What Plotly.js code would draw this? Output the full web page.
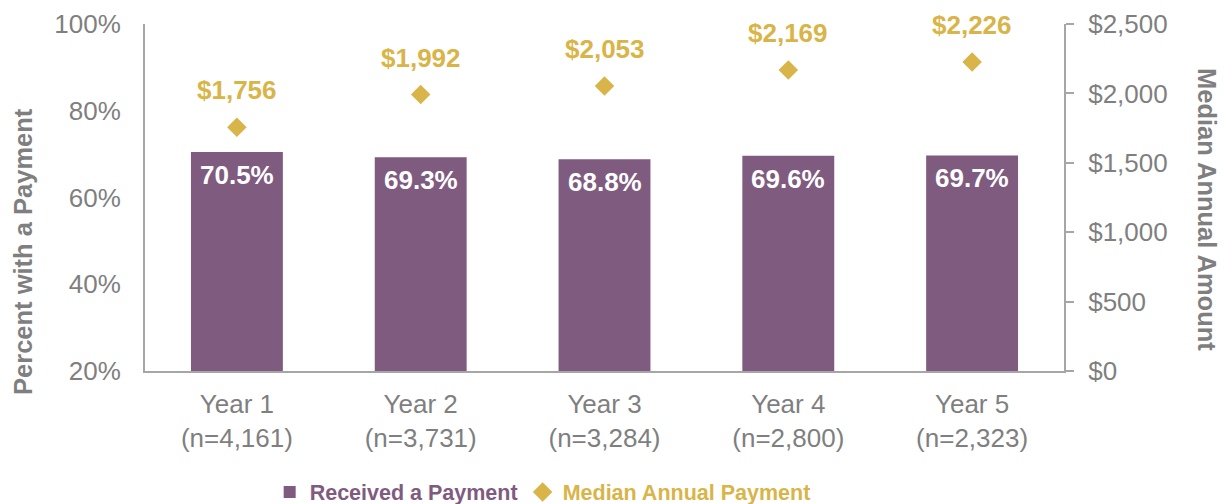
<!DOCTYPE html>
<html>
<head>
<meta charset="utf-8">
<script src="https://cdn.plot.ly/plotly-3.0.1.min.js"></script>
<style>html,body{margin:0;padding:0;background:#fff;}#chart{width:1225px;height:504px;}</style>
</head>
<body>
<div id="chart"></div>
<script>
const years = ["Year 1", "Year 2", "Year 3", "Year 4", "Year 5"];
const sampleSizes = ["4,161", "3,731", "3,284", "2,800", "2,323"];
const pctReceived = [70.5, 69.3, 68.8, 69.6, 69.7];
const medianPayment = [1756, 1992, 2053, 2169, 2226];

const PURPLE = "#7F5B7F";
const GOLD = "#D9B448";
const GRAY = "#7F7F7F";
const LINE = "#A6A6A6";
const FONT = "'Liberation Sans', Arial, sans-serif";

const cats = years.map((y, i) => y + "<br>(n=" + sampleSizes[i] + ")");

const traces = [
  {
    type: "bar",
    x: cats,
    y: pctReceived,
    width: 0.5,
    marker: {color: PURPLE},
    name: '<span style="color:' + PURPLE + '"><b>Received a Payment</b></span>',
    hoverinfo: "skip"
  },
  {
    type: "scatter",
    mode: "markers",
    x: cats,
    y: medianPayment,
    yaxis: "y2",
    marker: {symbol: "diamond", size: 15, color: GOLD},
    name: '<span style="color:' + GOLD + '"><b>Median Annual Payment</b></span>',
    hoverinfo: "skip"
  }
];

const annotations = [];
cats.forEach((c, i) => {
  annotations.push({
    x: c, y: pctReceived[i], xref: "x", yref: "y",
    text: "<b>" + pctReceived[i].toFixed(1) + "%</b>",
    showarrow: false, yshift: -23, yanchor: "middle",
    font: {family: FONT, size: 26, color: "#FFFFFF"}
  });
  annotations.push({
    x: c, y: medianPayment[i], xref: "x", yref: "y2",
    text: "<b>$" + medianPayment[i].toLocaleString("en-US") + "</b>",
    showarrow: false, yshift: 37, yanchor: "middle",
    font: {family: FONT, size: 26, color: GOLD}
  });
});
annotations.push({
  xref: "paper", yref: "paper", x: -0.1328, y: 0.3458,
  xanchor: "center", yanchor: "middle", textangle: -90,
  text: "<b>Percent with a Payment</b>", showarrow: false,
  font: {family: FONT, size: 25.5, color: GRAY}
});
annotations.push({
  xref: "paper", yref: "paper", x: 1.1556, y: 0.464,
  xanchor: "center", yanchor: "middle", textangle: 90,
  text: "<b>Median Annual Amount</b>", showarrow: false,
  font: {family: FONT, size: 25.5, color: GRAY}
});

const layout = {
  width: 1225, height: 504,
  margin: {l: 145, r: 161, t: 24, b: 133, pad: 0, autoexpand: false},
  paper_bgcolor: "#FFFFFF", plot_bgcolor: "#FFFFFF",
  font: {family: FONT, color: GRAY, size: 26},
  showlegend: true,
  legend: {
    orientation: "h", xref: "container", yref: "container",
    x: 0.443, xanchor: "center", y: 0.024, yanchor: "middle",
    font: {family: FONT, size: 21.5},
    itemwidth: 30, traceorder: "normal", bgcolor: "rgba(0,0,0,0)"
  },
  xaxis: {
    type: "category",
    showline: true, linecolor: LINE, linewidth: 2,
    ticks: "", showgrid: false, zeroline: false,
    tickfont: {family: FONT, size: 26, color: GRAY},
    ticklabelstandoff: 9, fixedrange: true
  },
  yaxis: {
    range: [20, 100], dtick: 20, tick0: 20, ticksuffix: "%",
    showline: true, linecolor: LINE, linewidth: 2,
    ticks: "", showgrid: false, zeroline: false,
    tickfont: {family: FONT, size: 26, color: GRAY},
    ticklabelstandoff: 17, fixedrange: true
  },
  yaxis2: {
    overlaying: "y", side: "right",
    range: [0, 2500], dtick: 500, tick0: 0, tickprefix: "$", tickformat: ",d",
    showline: true, linecolor: LINE, linewidth: 2,
    ticks: "outside", ticklen: 8, tickwidth: 2, tickcolor: LINE,
    showgrid: false, zeroline: false,
    tickfont: {family: FONT, size: 26, color: GRAY},
    ticklabelstandoff: 9, fixedrange: true
  },
  annotations: annotations
};

Plotly.newPlot("chart", traces, layout, {displayModeBar: false, staticPlot: true});
</script>
</body>
</html>
